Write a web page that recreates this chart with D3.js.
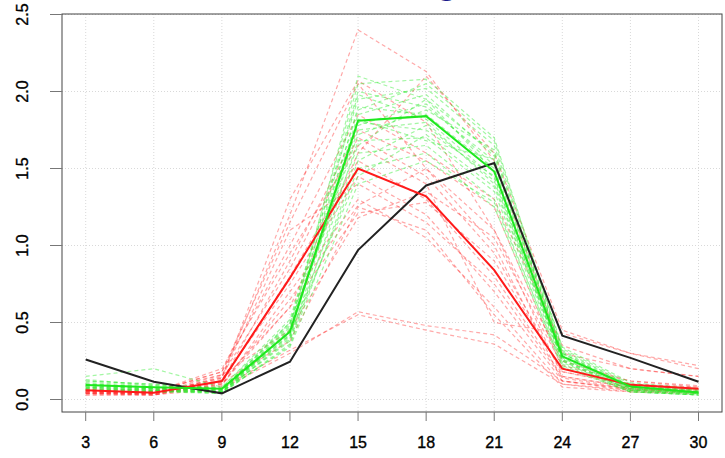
<!DOCTYPE html>
<html lang="en">
<head>
<meta charset="UTF-8">
<title>Profiles</title>
<script src="https://cdnjs.cloudflare.com/ajax/libs/d3/7.8.5/d3.min.js"></script>
<style>
    body { margin: 0; background: #fff; }
    svg { display: block; font-family: "Liberation Sans", Arial, sans-serif; }
    .grid line { stroke: #d9d9d9; stroke-dasharray: 1,2; }
    .tick-label { font-size: 16px; fill: #000; stroke: #000; stroke-width: 0.35; }
</style>
</head>
<body>
<svg id="svg" width="725" height="458"></svg>
<script>
    // time points and tick labels
    const xVals = [3, 6, 9, 12, 15, 18, 21, 24, 27, 30];
    const yTicks = [0, 0.5, 1.0, 1.5, 2.0, 2.5];

    // mean profiles
    const blackMean = [0.26, 0.115, 0.04, 0.245, 0.97, 1.39, 1.535, 0.415, 0.27, 0.115];
    const redMean = [0.06, 0.044, 0.12, 0.79, 1.50, 1.32, 0.84, 0.20, 0.095, 0.07];
    const greenMean = [0.094, 0.08, 0.07, 0.44, 1.81, 1.84, 1.48, 0.28, 0.085, 0.045];

    // individual red profiles
    const redLines = [
        [0.04, 0.03, 0.15, 1.20, 2.40, 2.13, 1.55, 0.30, 0.20, 0.15],
        [0.05, 0.04, 0.14, 1.30, 2.07, 1.80, 1.10, 0.15, 0.08, 0.06],
        [0.06, 0.05, 0.18, 1.15, 2.05, 1.50, 1.00, 0.12, 0.07, 0.05],
        [0.03, 0.03, 0.10, 0.60, 1.60, 2.10, 1.60, 0.45, 0.30, 0.22],
        [0.05, 0.04, 0.12, 0.90, 1.75, 1.55, 1.25, 0.20, 0.10, 0.08],
        [0.07, 0.06, 0.16, 0.85, 1.70, 1.45, 0.95, 0.18, 0.09, 0.07],
        [0.04, 0.03, 0.11, 0.80, 1.55, 1.30, 0.80, 0.15, 0.08, 0.06],
        [0.05, 0.05, 0.13, 0.75, 1.45, 1.20, 0.70, 0.12, 0.07, 0.05],
        [0.06, 0.04, 0.09, 0.70, 1.30, 1.05, 0.60, 0.10, 0.06, 0.05],
        [0.04, 0.04, 0.10, 0.65, 1.26, 1.50, 1.10, 0.25, 0.12, 0.09],
        [0.05, 0.03, 0.12, 0.60, 1.21, 1.28, 0.90, 0.18, 0.10, 0.07],
        [0.03, 0.03, 0.07, 0.30, 0.57, 0.48, 0.42, 0.12, 0.06, 0.05],
        [0.04, 0.04, 0.08, 0.32, 0.55, 0.45, 0.36, 0.10, 0.05, 0.04],
        [0.05, 0.05, 0.18, 1.00, 1.85, 1.60, 1.30, 0.35, 0.20, 0.15],
        [0.06, 0.05, 0.20, 0.95, 1.65, 1.40, 0.50, 0.43, 0.30, 0.20],
        [0.04, 0.04, 0.14, 1.10, 1.40, 1.15, 0.75, 0.14, 0.07, 0.05],
        [0.05, 0.04, 0.16, 0.45, 1.18, 1.35, 1.05, 0.22, 0.12, 0.08],
        [0.06, 0.05, 0.11, 0.38, 1.25, 1.10, 0.55, 0.08, 0.05, 0.04]
    ];

    // individual green profiles
    const greenLines = [
        [0.08, 0.07, 0.05, 0.45, 2.10, 1.95, 1.60, 0.30, 0.08, 0.05],
        [0.10, 0.08, 0.06, 0.50, 2.05, 2.08, 1.70, 0.32, 0.09, 0.06],
        [0.12, 0.10, 0.07, 0.48, 2.00, 1.90, 1.55, 0.28, 0.07, 0.04],
        [0.15, 0.20, 0.08, 0.52, 1.95, 2.02, 1.65, 0.33, 0.10, 0.06],
        [0.07, 0.06, 0.04, 0.40, 1.90, 1.85, 1.50, 0.27, 0.06, 0.04],
        [0.09, 0.07, 0.06, 0.42, 1.85, 1.98, 1.58, 0.30, 0.08, 0.05],
        [0.06, 0.05, 0.05, 0.38, 1.80, 1.75, 1.45, 0.26, 0.06, 0.03],
        [0.11, 0.09, 0.07, 0.46, 1.78, 1.92, 1.52, 0.29, 0.07, 0.05],
        [0.08, 0.06, 0.05, 0.44, 1.75, 1.80, 1.40, 0.25, 0.05, 0.03],
        [0.10, 0.08, 0.06, 0.47, 1.72, 1.88, 1.62, 0.31, 0.09, 0.06],
        [0.07, 0.05, 0.04, 0.36, 1.68, 1.70, 1.35, 0.24, 0.06, 0.04],
        [0.13, 0.09, 0.08, 0.50, 1.65, 1.95, 1.48, 0.28, 0.08, 0.05],
        [0.09, 0.07, 0.05, 0.41, 1.60, 1.65, 1.30, 0.22, 0.05, 0.03],
        [0.06, 0.06, 0.04, 0.35, 1.55, 1.78, 1.42, 0.27, 0.07, 0.04],
        [0.08, 0.07, 0.05, 0.39, 1.50, 1.60, 1.25, 0.21, 0.05, 0.03],
        [0.10, 0.08, 0.06, 0.43, 1.45, 1.72, 1.38, 0.26, 0.06, 0.04],
        [0.07, 0.06, 0.05, 0.34, 1.40, 1.55, 1.28, 0.23, 0.05, 0.03],
        [0.12, 0.10, 0.07, 0.49, 1.88, 2.05, 1.68, 0.34, 0.11, 0.07],
        [0.08, 0.06, 0.05, 0.42, 1.98, 1.82, 1.44, 0.25, 0.06, 0.04],
        [0.09, 0.07, 0.06, 0.45, 1.82, 1.68, 1.56, 0.30, 0.07, 0.05]
    ];

    const svg = d3.select("#svg");
    const box = { left: 62, right: 722, top: 14, bottom: 412 };

    const x = d3.scaleLinear().domain([3, 30]).range([85.7, 698.5]);
    const y = d3.scaleLinear().domain([0, 2.5]).range([399.5, 14.5]);

    // grid
    const grid = svg.append("g").attr("class", "grid");
    grid.selectAll(".gx").data(xVals).enter().append("line")
        .attr("x1", d => x(d)).attr("x2", d => x(d))
        .attr("y1", box.top).attr("y2", box.bottom);
    grid.selectAll(".gy").data(yTicks).enter().append("line")
        .attr("x1", box.left).attr("x2", box.right)
        .attr("y1", d => y(d)).attr("y2", d => y(d));

    const line = d3.line().x((d, i) => x(xVals[i])).y(d => y(d));

    // dashed individual profiles
    svg.append("g").selectAll("path").data(redLines).enter().append("path")
        .attr("d", line)
        .attr("fill", "none")
        .attr("stroke", "rgba(255,50,50,0.42)")
        .attr("stroke-width", 1.2)
        .attr("stroke-dasharray", "4,3");

    svg.append("g").selectAll("path").data(greenLines).enter().append("path")
        .attr("d", line)
        .attr("fill", "none")
        .attr("stroke", "rgba(50,235,50,0.45)")
        .attr("stroke-width", 1.2)
        .attr("stroke-dasharray", "4,3");

    // mean profiles
    const means = [
        { values: blackMean, color: "#222" },
        { values: redMean, color: "#ff1a1a" },
        { values: greenMean, color: "#1ee81e" }
    ];
    svg.append("g").selectAll("path").data(means).enter().append("path")
        .attr("d", d => line(d.values))
        .attr("fill", "none")
        .attr("stroke", d => d.color)
        .attr("stroke-width", 2);

    // plot frame
    svg.append("rect")
        .attr("x", box.left).attr("y", box.top)
        .attr("width", box.right - box.left).attr("height", box.bottom - box.top)
        .attr("fill", "none").attr("stroke", "#444").attr("stroke-width", 1);

    // x axis ticks + labels
    const xa = svg.append("g");
    xa.selectAll("line").data(xVals).enter().append("line")
        .attr("x1", d => x(d)).attr("x2", d => x(d))
        .attr("y1", box.bottom).attr("y2", box.bottom + 9)
        .attr("stroke", "#777");
    xa.selectAll("text").data(xVals).enter().append("text")
        .attr("class", "tick-label")
        .attr("x", d => x(d)).attr("y", 448)
        .attr("text-anchor", "middle")
        .text(d => d);

    // y axis ticks + labels
    const ya = svg.append("g");
    ya.selectAll("line").data(yTicks).enter().append("line")
        .attr("x1", box.left - 12).attr("x2", box.left)
        .attr("y1", d => y(d)).attr("y2", d => y(d))
        .attr("stroke", "#777");
    ya.selectAll("text").data(yTicks).enter().append("text")
        .attr("class", "tick-label")
        .attr("transform", d => `translate(28,${y(d)}) rotate(-90)`)
        .attr("text-anchor", "middle")
        .text(d => d.toFixed(1));

    // title, mostly off the top of the picture
    svg.append("text")
        .attr("x", 448).attr("y", -5)
        .attr("text-anchor", "middle")
        .attr("font-family", "DejaVu Sans")
        .attr("font-size", 26).attr("font-weight", "bold")
        .attr("fill", "#1a1a8c")
        .text("g");
</script>
</body>
</html>
